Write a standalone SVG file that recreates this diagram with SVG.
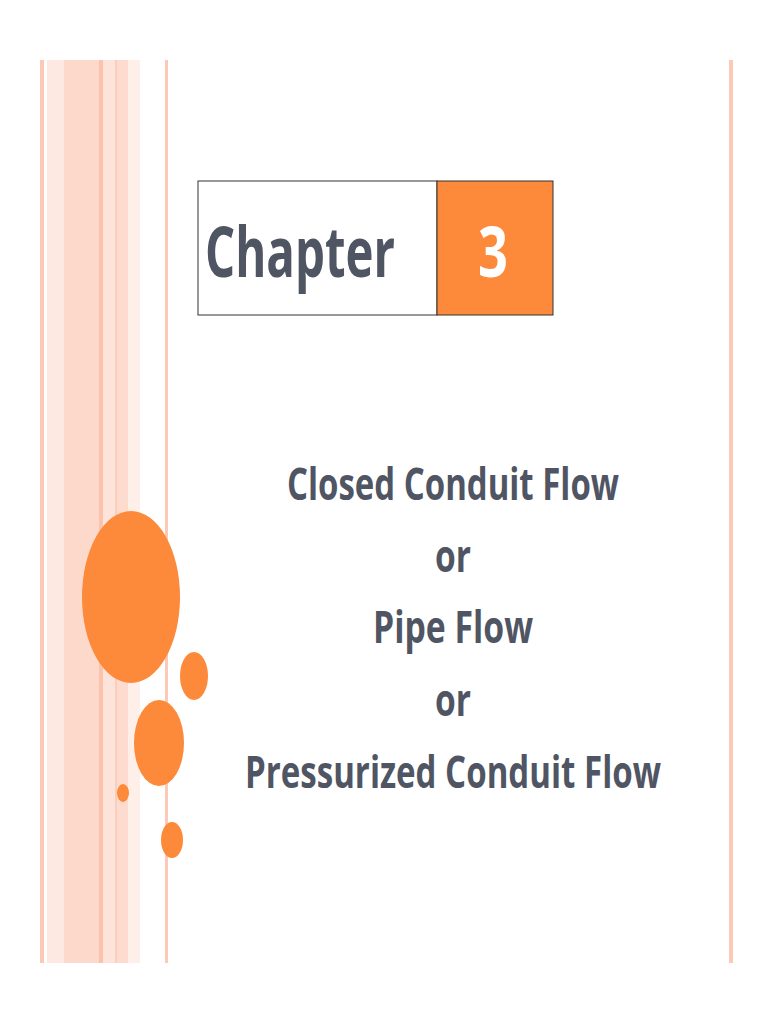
<svg xmlns="http://www.w3.org/2000/svg" width="768" height="1024" viewBox="0 0 768 1024">
<style>
.t{font-family:"Open Sans","Liberation Sans",sans-serif;font-weight:bold;fill:#4f5563;text-anchor:middle}
.o{fill:#fd893a}
</style>
<rect width="768" height="1024" fill="#fff"/>
<g fill="#fcd5c6">
<rect x="40" y="60" width="4" height="903" fill="#fbc9b6"/>
<rect x="47" y="60" width="17" height="903" fill="#fde9e1"/>
<rect x="64" y="60" width="35" height="903" fill="#fcd9cb"/>
<rect x="99" y="60" width="4" height="903" fill="#fbc2ac"/>
<rect x="103" y="60" width="12" height="903" fill="#fde4da"/>
<rect x="115" y="60" width="2" height="903" fill="#fbcdbb"/>
<rect x="117" y="60" width="11" height="903" fill="#fddccf"/>
<rect x="128" y="60" width="12" height="903" fill="#feefe9"/>
<rect x="165" y="60" width="3" height="903" fill="#fbcab7"/>
<rect x="729" y="60" width="4" height="903" fill="#fbcab7"/>
</g>
<g id="circles">
<ellipse class="o" cx="131" cy="597" rx="49" ry="86"/>
<ellipse class="o" cx="194" cy="676" rx="14" ry="24"/>
<ellipse class="o" cx="159" cy="743" rx="25" ry="43"/>
<ellipse class="o" cx="123" cy="793" rx="6" ry="9"/>
<ellipse class="o" cx="172" cy="840" rx="11" ry="18"/>
</g>
<g id="chapter">
<rect x="198" y="181" width="239" height="134" fill="#fff" stroke="#333" stroke-width="1"/>
<rect x="437" y="181" width="116" height="134" fill="#fd893a" stroke="#333" stroke-width="1"/>
<text class="t" x="300" y="277" font-size="70" textLength="190" lengthAdjust="spacingAndGlyphs">Chapter</text>
<text class="t" x="493" y="277" font-size="70" style="fill:#fff" textLength="30" lengthAdjust="spacingAndGlyphs">3</text>
</g>
<g id="title" font-size="44">
<text class="t" x="453" y="500" textLength="332" lengthAdjust="spacingAndGlyphs">Closed Conduit Flow</text>
<text class="t" x="453" y="572" textLength="36" lengthAdjust="spacingAndGlyphs">or</text>
<text class="t" x="453" y="643" textLength="160" lengthAdjust="spacingAndGlyphs">Pipe Flow</text>
<text class="t" x="453" y="716" textLength="36" lengthAdjust="spacingAndGlyphs">or</text>
<text class="t" x="453" y="788" textLength="416" lengthAdjust="spacingAndGlyphs">Pressurized Conduit Flow</text>
</g>
</svg>
